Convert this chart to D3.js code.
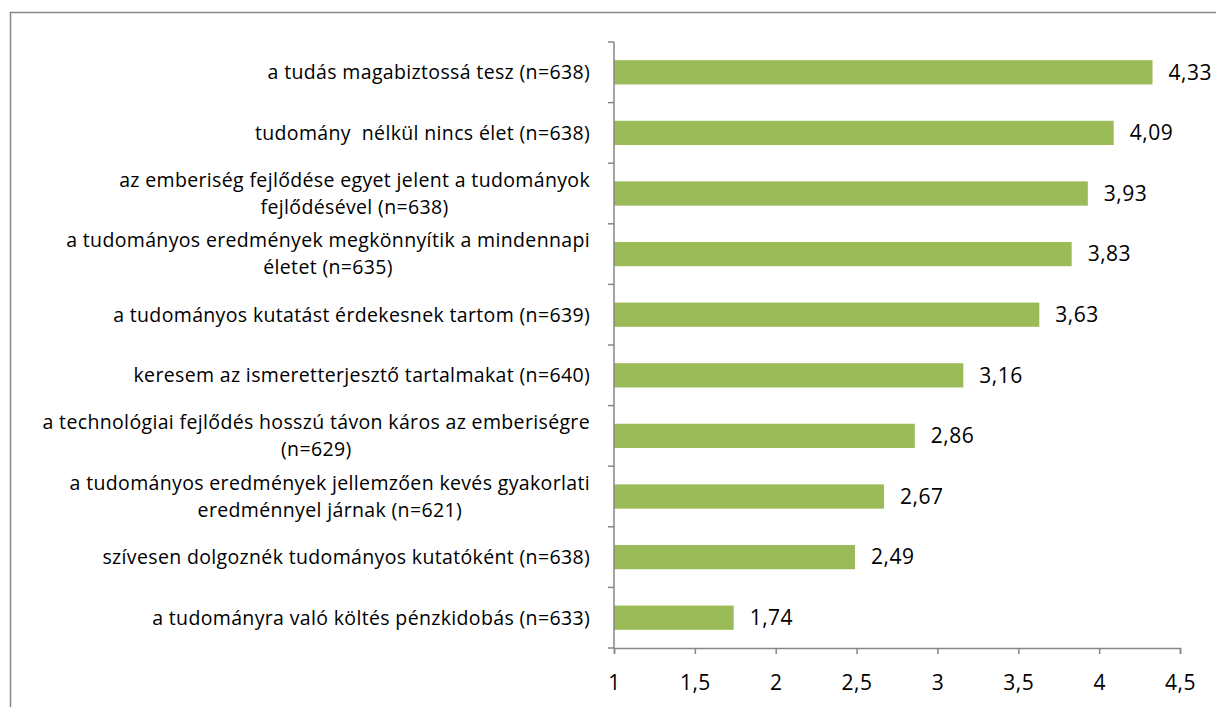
<!DOCTYPE html>
<html lang="hu">
  <head>
    <meta charset="utf-8">
    <title>Tudomány attitűdök</title>
    <script src="https://d3js.org/d3.v7.min.js"></script>
    <style>
      body { margin: 0; background: #fff; }
      text { font-family: "Open Sans", "Liberation Sans", sans-serif; fill: #000; white-space: pre; }
    </style>
  </head>
  <body>
    <div id="chart"></div>
    <script>

// labels split into lines the way the original wraps them
var categories = [
  ["a tudás magabiztossá tesz (n=638)"],
  ["tudomány  nélkül nincs élet (n=638)"],
  ["az emberiség fejlődése egyet jelent a tudományok", "fejlődésével (n=638)"],
  ["a tudományos eredmények megkönnyítik a mindennapi", "életet (n=635)"],
  ["a tudományos kutatást érdekesnek tartom (n=639)"],
  ["keresem az ismeretterjesztő tartalmakat (n=640)"],
  ["a technológiai fejlődés hosszú távon káros az emberiségre", "(n=629)"],
  ["a tudományos eredmények jellemzően kevés gyakorlati", "eredménnyel járnak (n=621)"],
  ["szívesen dolgoznék tudományos kutatóként (n=638)"],
  ["a tudományra való költés pénzkidobás (n=633)"]
];
var values = [4.33, 4.09, 3.93, 3.83, 3.63, 3.16, 2.86, 2.67, 2.49, 1.74];
var xTicks = [1, 1.5, 2, 2.5, 3, 3.5, 4, 4.5];

var W = 1216, H = 707;
var margin = {top: 42, left: 614, right: 36, bottom: 59};
var width = W - margin.left - margin.right,
    height = H - margin.top - margin.bottom;

var fmt = function(v) { return String(v).replace(".", ","); };

var svg = d3.select("#chart").append("svg")
    .attr("width", W)
    .attr("height", H);

// outer frame (bottom runs off the picture)
svg.append("rect")
    .attr("x", 10.5).attr("y", 12.5)
    .attr("width", 1215).attr("height", 720)
    .attr("fill", "none")
    .attr("stroke", "#868686")
    .attr("stroke-width", 1.5);

var g = svg.append("g")
    .attr("transform", "translate(" + margin.left + "," + margin.top + ")");

var x = d3.scaleLinear()
    .domain([1, 4.5])
    .range([0, width]);

var y = d3.scaleBand()
    .domain(d3.range(categories.length))
    .range([0, height])
    .paddingInner(0.6)
    .paddingOuter(0.3);

var step = y.step();

// bars
g.selectAll(".bar")
    .data(values)
  .enter().append("rect")
    .attr("class", "bar")
    .attr("x", x(1))
    .attr("y", function(d, i) { return y(i); })
    .attr("width", function(d) { return x(d) - x(1); })
    .attr("height", y.bandwidth())
    .attr("fill", "#9bbb59");

// value labels
g.selectAll(".val")
    .data(values)
  .enter().append("text")
    .attr("class", "val")
    .attr("x", function(d) { return x(d) + 16; })
    .attr("y", function(d, i) { return y(i) + y.bandwidth() / 2; })
    .attr("dy", "0.35em")
    .style("font-size", "21px")
    .style("letter-spacing", "0.5px")
    .text(fmt);

// y axis line + ticks between categories
var axisColor = "#868686";
g.append("line")
    .attr("x1", 0).attr("x2", 0)
    .attr("y1", 0).attr("y2", height)
    .attr("stroke", axisColor).attr("stroke-width", 1.5);

g.selectAll(".ytick")
    .data(d3.range(categories.length + 1))
  .enter().append("line")
    .attr("class", "ytick")
    .attr("x1", -6).attr("x2", 0)
    .attr("y1", function(d) { return d * step; })
    .attr("y2", function(d) { return d * step; })
    .attr("stroke", axisColor).attr("stroke-width", 1.5);

// category labels
var lineH = 27;
var lab = g.selectAll(".cat")
    .data(categories)
  .enter().append("text")
    .attr("class", "cat")
    .attr("text-anchor", "end")
    .style("font-size", "19.5px")
    .style("letter-spacing", "0.35px")
    .attr("transform", function(d, i) {
      return "translate(-24," + (y(i) + y.bandwidth() / 2) + ")";
    });

lab.selectAll("tspan")
    .data(function(d) { return d; })
  .enter().append("tspan")
    .attr("x", 0)
    .attr("y", function(d, i, n) { return (i - (n.length - 1) / 2) * lineH; })
    .attr("dy", "0.35em")
    .text(function(d) { return d; });

// x axis
var xAxis = d3.axisBottom(x)
    .tickValues(xTicks)
    .tickSize(6)
    .tickPadding(21)
    .tickFormat(fmt);

var xg = g.append("g")
    .attr("transform", "translate(0," + height + ")")
    .call(xAxis);

xg.select(".domain").attr("stroke", axisColor).attr("stroke-width", 1.5);
xg.selectAll(".tick line").attr("stroke", axisColor).attr("stroke-width", 1.5);
xg.selectAll(".tick text")
    .style("font-size", "21px")
    .style("letter-spacing", "0.5px")
    .style("font-family", "'Open Sans', 'Liberation Sans', sans-serif")
    .attr("fill", "#000");

// second lines of wrapped labels are centred under the first line
lab.each(function() {
  var t = d3.select(this).selectAll("tspan");
  if (t.size() > 1) {
    var w = t.nodes()[0].getComputedTextLength();
    t.filter(function(d, i) { return i > 0; })
      .attr("x", -w / 2)
      .attr("text-anchor", "middle");
  }
});

    </script>
  </body>
</html>
